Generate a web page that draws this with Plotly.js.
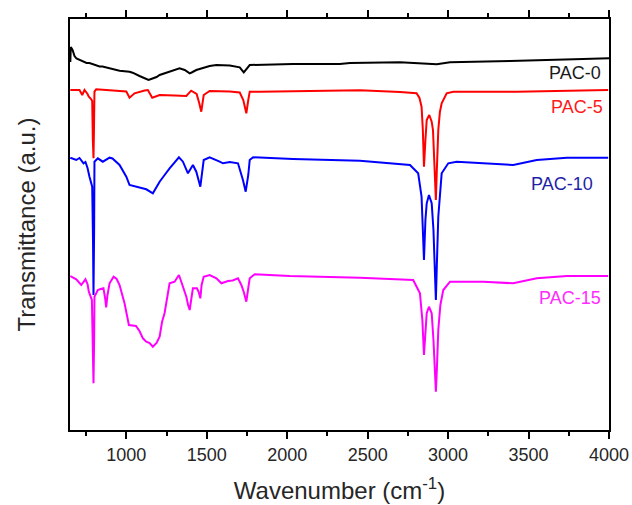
<!DOCTYPE html>
<html>
<head>
<meta charset="utf-8">
<script src="https://cdn.plot.ly/plotly-3.0.1.min.js"></script>
<style>
html,body{margin:0;padding:0;background:#fff;}
#chart{width:632px;height:505px;}
</style>
</head>
<body>
<div id="chart"></div>
<script>
// FTIR spectra (wavenumber in cm-1, transmittance in arbitrary offset units)
const seriesNames = ["PAC-0", "PAC-5", "PAC-10", "PAC-15"];

const pac0X = [652,655,666,678,690,709,753,771,834,852,896,940,958,1020,1039,1082,1114,1138,1163,1188,1207,1257,1331,1363,1394,1406,1435,1518,1560,1643,1705,1730,1742,1767,2035,2327,2390,2701,2929,3012,3385,3551,3839,4000];
const pac0Y = [368,383,380,374,371.5,370,367,367,363.5,363.5,361.5,359.5,359.3,358.3,357.3,354,352,350,351.5,353,355,358,361.7,360,356.7,357.5,360,364,365,364.5,362.7,357.7,360,365,366,366,367,367.7,365.7,367.7,369,370,371,371.7];

const pac5X = [652,709,726,740,759,767,781,788,792,796,799,802,813,896,1000,1020,1051,1114,1134,1161,1207,1300,1373,1403,1437,1453,1466,1481,1518,1643,1705,1727,1746,1758,1767,1829,2078,2452,2701,2804,2822,2835,2843,2850,2859,2867,2883,2898,2906,2915,2924,2930,2939,2949,2960,2991,3032,3427,3696,3995];
const pac5Y = [340,340,335,340,336,333.3,331,329,290,271.7,300,338.3,340.7,340,338.5,332.3,336.7,339.5,340,332.3,335,334.5,334,339.3,336,327,318.3,335,339,338.5,337.5,330,316.7,330,338.3,338.3,339,339.7,338,336.7,332,323.3,300,263.3,290,310,315,308.3,300,265,230,260,300,318,326.7,336.7,338.3,338.3,339,340];

const pac10X = [652,689,709,734,746,759,771,788,793,796,800,802,823,854,896,914,958,1000,1020,1062,1095,1124,1165,1207,1238,1269,1327,1352,1383,1414,1435,1460,1481,1518,1580,1601,1643,1694,1725,1742,1758,1767,1788,1891,2036,2452,2763,2814,2835,2843,2850,2859,2867,2881,2898,2909,2918,2924,2930,2939,2960,3001,3053,3219,3405,3551,3738,3995];
const pac10Y = [272.3,270,272,266.7,268,262,253.3,243.3,190,135,200,268.3,271.7,268.3,272.3,271.5,265,253.3,245,243.3,242,240.7,236.7,248.3,255,261.7,272.7,268.3,256.7,265,258.3,243.3,270,272.7,268.3,266.7,268,266.7,250,238.3,255,270,272.7,272.3,271,269.3,265,256.7,233.3,200,170,210,226.7,235,226.7,200,160,130,165,213.3,256.7,266.7,268.3,266.7,265,270,272.3,272.3];

const pac15X = [652,689,720,746,759,767,786,790,796,800,802,813,823,840,858,868,875,883,896,921,940,958,974,989,1016,1060,1082,1103,1124,1145,1165,1188,1207,1222,1238,1269,1300,1327,1338,1352,1373,1384,1394,1403,1414,1439,1450,1460,1468,1481,1518,1560,1591,1632,1661,1694,1715,1730,1746,1758,1767,1798,1891,2016,2452,2783,2825,2840,2850,2859,2867,2881,2898,2909,2918,2924,2930,2939,2952,2970,3012,3219,3405,3551,3738,3995];
const pac15Y = [154,150.7,145,150.7,146,138.3,130,90,46.7,90,133.3,136.7,140,141,141.7,132,122.5,135,146.7,153.3,151,145,135,126.7,105,104,99,91.7,88.3,87,83.3,87,93.3,108,117,146.7,148.3,155,150,143.3,133.3,125,120,130,141.7,141.7,138,131.7,145,153.3,155,151.7,146.7,149,149.5,151.7,145,138,128.3,142,151.7,155.7,155,154,152.3,150,136.7,110,75,100,116.7,123.3,116.7,90,60,38.3,60,100,125,140,148.3,148.3,146.7,151.7,154,154];

const xTickVals = [1000,1500,2000,2500,3000,3500,4000];
const xTickText = ["1000","1500","2000","2500","3000","3500","4000"];

const lineColors = ["#000000", "#ff0000", "#0000ff", "#ff00ff"];
const labelColors = ["#1a1a1a", "#ff1a1a", "#1f1fa8", "#ff2bff"];
const labelX = [3964, 3976, 3914, 3964];
const labelY = [356.7, 323.3, 246, 132];

const xs = [pac0X, pac5X, pac10X, pac15X];
const ys = [pac0Y, pac5Y, pac10Y, pac15Y];

const traces = seriesNames.map((n, i) => ({
  x: xs[i], y: ys[i], name: n, type: "scatter", mode: "lines",
  line: {color: lineColors[i], width: 2}, hoverinfo: "skip"
}));

const annotations = seriesNames.map((n, i) => ({
  x: labelX[i], y: labelY[i], xref: "x", yref: "y",
  text: n, showarrow: false, xanchor: "right", yanchor: "middle",
  font: {family: "Liberation Sans, Arial, sans-serif", size: 18, color: labelColors[i]}
}));

const layout = {
  width: 632, height: 505,
  margin: {l: 70, r: 23, t: 19, b: 75, pad: 0},
  paper_bgcolor: "#ffffff", plot_bgcolor: "#ffffff",
  showlegend: false,
  font: {family: "Liberation Sans, Arial, sans-serif", color: "#262626"},
  xaxis: {
    range: [650, 4000], autorange: false,
    showgrid: false, zeroline: false,
    showline: true, linecolor: "#000", linewidth: 2, mirror: "ticks",
    ticks: "outside", ticklen: 7, tickwidth: 2, tickcolor: "#000",
    tickmode: "array", tickvals: xTickVals, ticktext: xTickText,
    tickfont: {size: 18, color: "#262626"},
    minor: {dtick: 250, tick0: 750, ticks: "outside", ticklen: 4, tickwidth: 2, tickcolor: "#000"},
    title: {text: "Wavenumber (cm<sup>-1</sup>)", font: {size: 24, color: "#262626"}, standoff: 19}
  },
  yaxis: {
    range: [0, 411], autorange: false,
    showgrid: false, zeroline: false,
    showline: true, linecolor: "#000", linewidth: 2, mirror: true,
    ticks: "", showticklabels: false,
    title: {text: "Transmittance (a.u.)", font: {size: 24, color: "#262626"}, standoff: 26}
  },
  annotations: annotations
};

Plotly.newPlot("chart", traces, layout, {staticPlot: true, displayModeBar: false});
</script>
</body>
</html>
